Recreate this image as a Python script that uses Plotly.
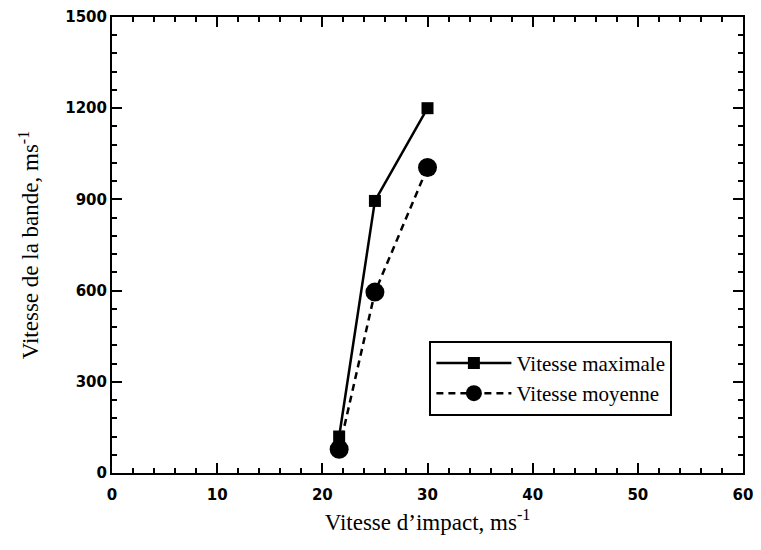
import plotly.graph_objects as go

# Data
impact = [21.6, 25.0, 30.0]
v_max = [120, 895, 1200]
v_moy = [78, 595, 1005]

x_ticks = [0, 10, 20, 30, 40, 50, 60]
y_ticks = [0, 300, 600, 900, 1200, 1500]

fig = go.Figure()

fig.add_trace(go.Scatter(
    x=impact, y=v_max, mode='lines+markers', name='Vitesse maximale',
    line=dict(color='black', width=2.5),
    marker=dict(symbol='square', size=12, color='black'),
))
fig.add_trace(go.Scatter(
    x=impact, y=v_moy, mode='lines+markers', name='Vitesse moyenne',
    line=dict(color='black', width=2.5, dash='7px,5px'),
    marker=dict(symbol='circle', size=19, color='black'),
))

tick_font = dict(family='DejaVu Sans', size=15, color='black', weight=800)
title_font = dict(family='Liberation Serif', size=23, color='black')

axis_common = dict(
    showgrid=False, zeroline=False, showline=True, linecolor='black', linewidth=2,
    mirror='allticks', ticks='inside', ticklen=10, tickwidth=2, tickcolor='black',
    tickfont=tick_font, automargin=False, ticklabeloverflow='allow',
)

# the page body has an 8px margin, so the figure is sized to fit inside it
fig.update_layout(
    width=745, height=527,
    margin=dict(l=104, r=10, t=9, b=62),
    plot_bgcolor='white', paper_bgcolor='white',
    xaxis=dict(
        range=[0, 60], tickvals=x_ticks, ticklabelstandoff=7,
        minor=dict(dtick=2, ticks='inside', ticklen=5, tickwidth=2, tickcolor='black'),
        title=dict(text="Vitesse d’impact, ms<sup>-1</sup>", font=title_font, standoff=12),
        **axis_common,
    ),
    yaxis=dict(
        range=[0, 1500], tickvals=y_ticks,
        minor=dict(dtick=60, ticks='inside', ticklen=5, tickwidth=2, tickcolor='black'),
        title=dict(text="Vitesse de la bande, ms<sup>-1</sup>", font=title_font, standoff=20),
        **axis_common,
    ),
    legend=dict(
        x=0.503, y=0.29, xanchor='left', yanchor='top',
        bordercolor='black', borderwidth=2, bgcolor='white',
        font=dict(family='Liberation Serif', size=21, color='black'),
        itemwidth=75, tracegroupgap=0,
    ),
    showlegend=True,
)

fig.write_html("out.html")
